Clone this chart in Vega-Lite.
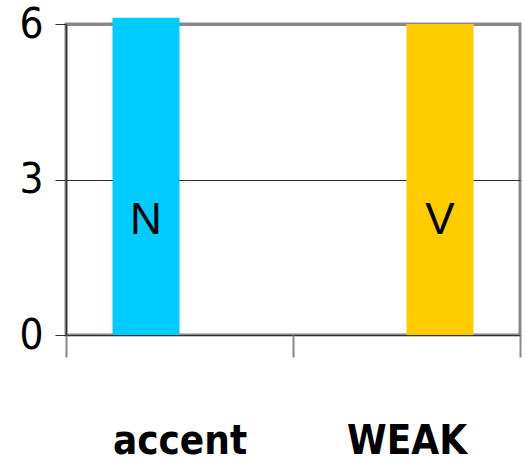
{
  "$schema": "https://vega.github.io/schema/vega-lite/v6.json",
  "width": 454,
  "height": 311,
  "autosize": {"type": "none"},
  "padding": {"left": 66, "top": 24, "right": 6, "bottom": 134},
  "background": "white",
  "config": {
    "view": {"stroke": "#888888", "strokeWidth": 3},
    "axis": {"labelFont": "DejaVu Sans Condensed, sans-serif"}
  },
  "data": {
    "values": [
      {"category": "accent", "series": "N", "value": 6.12},
      {"category": "WEAK", "series": "V", "value": 6.0}
    ]
  },
  "encoding": {
    "x": {
      "field": "category",
      "type": "nominal",
      "sort": ["accent", "WEAK"],
      "scale": {"paddingInner": 0, "paddingOuter": 0},
      "axis": {
        "title": null,
        "labelAngle": 0,
        "domain": false,
        "tickBand": "extent",
        "tickColor": "#888888",
        "tickWidth": 2,
        "tickSize": 22,
        "labelFontSize": 40,
        "labelFontWeight": "bold",
        "labelColor": "black",
        "labelPadding": 64
      }
    },
    "xOffset": {
      "field": "series",
      "type": "nominal",
      "sort": ["N", "V"],
      "scale": {"paddingInner": 0, "paddingOuter": 0.694}
    }
  },
  "layer": [
    {
      "mark": {"type": "bar", "clip": false},
      "encoding": {
        "y": {
          "field": "value",
          "type": "quantitative",
          "scale": {"domain": [0, 6], "nice": false},
          "axis": {
            "title": null,
            "values": [0, 3, 6],
            "domainColor": "#333333",
            "domainWidth": 1.5,
            "tickColor": "#333333",
            "tickSize": 11,
            "gridColor": {"condition": {"test": "datum.value === 6", "value": "#888888"}, "value": "#333333"},
            "gridWidth": {"condition": {"test": "datum.value === 6", "value": 3}, "value": 1},
            "labelFontSize": 42,
            "labelColor": "black",
            "labelPadding": 12
          }
        },
        "color": {
          "field": "series",
          "type": "nominal",
          "scale": {"domain": ["N", "V"], "range": ["#00CCFF", "#FFCC00"]},
          "legend": null
        }
      }
    },
    {
      "mark": {"type": "text", "font": "Liberation Sans, Arial, sans-serif", "fontSize": 44, "color": "black", "baseline": "middle"},
      "encoding": {
        "y": {"datum": 2.2, "type": "quantitative"},
        "text": {"field": "series"}
      }
    }
  ]
}
